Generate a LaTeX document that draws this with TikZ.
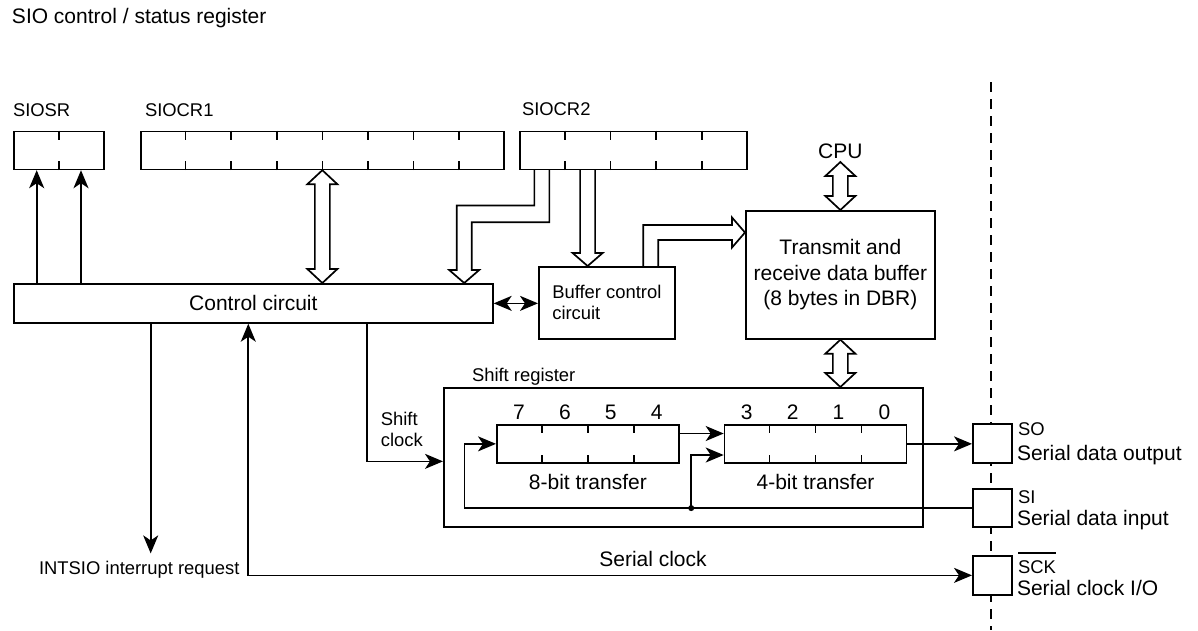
\documentclass[tikz,border=0pt]{standalone}
\usepackage{fontspec}
\setmainfont{Liberation Sans}
\usetikzlibrary{arrows.meta,calc,positioning}
\newcommand\fbig{\fontsize{21}{25.6}\selectfont}
\newcommand\fsmall{\fontsize{18.4}{21}\selectfont}
\newcommand\ovl[1]{\vbox{\hrule height 1.5pt\kern 6.5pt\hbox{#1}}}
% bit ticks on a register: node, number of cells
\newcommand\regticks[2]{\foreach \i in {1,...,#2}{\ifnum\i<#2
  \draw ($(#1.north west)!\i/#2!(#1.north east)$) -- ++(0,9)
        ($(#1.south west)!\i/#2!(#1.south east)$) -- ++(0,-9);\fi}}
% two-way hollow bus, #1 top end, #2 bottom end
\newcommand\dbus[2]{\draw[bus] (#1) -- ++(15,14) -- ++(-7.5,0) -- ($(#2)+(7.5,-14)$)
  -- ++(7.5,0) -- (#2) -- ++(-15,-14) -- ++(7.5,0) -- ($(#1)+(-7.5,14)$) -- ++(-7.5,0) -- cycle;}
\tikzset{
  reg/.style={draw,anchor=north west,inner sep=0pt},
  blk/.style={reg,font=\fbig},
  pinbox/.style={draw,fill=white,line width=2.2pt,anchor=north west,inner sep=0pt,
                 minimum width=39pt,minimum height=38.5pt},
  txt/.style={inner sep=0pt,outer sep=0pt,text height=15.1pt,text depth=0pt,font=\fbig},
  stxt/.style={txt,text height=13.2pt,font=\fsmall},
  bus/.style={line join=miter},
  pinline/.style={line width=2.4pt,dash pattern=on 10pt off 7pt}
}
\begin{document}
\begin{tikzpicture}[x=1pt,y=-1pt,line width=1.7pt,
    >={Stealth[length=18pt,width=15pt,inset=5pt]}]
  \useasboundingbox (0,0) rectangle (1198,630);
  \node[txt,anchor=base west] (title) at (12,23.3) {SIO control / status register};

  % control / status registers
  \node[reg,minimum width=90pt,minimum height=38pt] (sr) at (13,130.5) {};
  \node[reg,minimum width=363pt,minimum height=38pt] (cr1) at (140,130.5) {};
  \node[reg,minimum width=227pt,minimum height=38pt] (cr2) at (519,130.5) {};
  \regticks{sr}{2} \regticks{cr1}{8} \regticks{cr2}{5}
  \node[stxt,above right=14.5pt and 0pt of sr.north west] (srl) {SIOSR};
  \node[stxt,above right=14.5pt and 5pt of cr1.north west] (cr1l) {SIOCR1};
  \node[stxt,above right=15pt and 3pt of cr2.north west] (cr2l) {SIOCR2};

  % circuits and buffer
  \node[blk,minimum width=479pt,minimum height=39pt] (ctl) at (13,283) {Control circuit};
  \node[blk,font=\fsmall,align=left,minimum width=136pt,minimum height=72pt] (bcc) at (538,266) {Buffer control\\circuit};
  \node[blk,align=center,minimum width=189pt,minimum height=128pt] (dbr) at (745,210) {Transmit and\\receive data buffer\\(8 bytes in DBR)};
  \node[txt,above=52pt of dbr] (cpu) {CPU};

  % shift register
  \node[reg,minimum width=479pt,minimum height=139pt] (shr) at (443,387) {};
  \node[stxt,above right=5.5pt and 29pt of shr.north west] (shrl) {Shift register};
  \node[reg,minimum width=182pt,minimum height=38pt] (r8) at (496,424) {};
  \node[reg,minimum width=182pt,minimum height=38pt,right=44pt of r8] (r4) {};
  \regticks{r8}{4} \regticks{r4}{4}
  \foreach \b [count=\k, evaluate=\k as \f using (\k-0.5)/4] in {7,6,5,4}
    \node[txt] (b\b) at ($(r8.north west)!\f!(r8.north east)+(0,-12.5)$) {\b};
  \foreach \b [count=\k, evaluate=\k as \f using (\k-0.5)/4] in {3,2,1,0}
    \node[txt] (b\b) at ($(r4.north west)!\f!(r4.north east)+(0,-12.5)$) {\b};
  \node[txt,below=10.5pt of r8] (r8l) {8-bit transfer};
  \node[txt,below=10.5pt of r4] (r4l) {4-bit transfer};

  % pins
  \draw[pinline] (991,82) -- (991,630);
  \node[pinbox,minimum height=39pt] (so) at (972,423) {};
  \node[pinbox,minimum height=38pt] (si) at (972,488) {};
  \node[pinbox] (sck) at (972,555) {};
  \node[stxt,anchor=west] (sol) at (1018,429) {SO};
  \node[txt,anchor=west] (sod) at (1017,453) {Serial data output};
  \node[stxt,anchor=west] (sil) at (1018,496.7) {SI};
  \node[txt,anchor=west] (sid) at (1017,518) {Serial data input};
  \node[stxt,anchor=west] (sckl) at (1018,566.7) {\ovl{SCK}};
  \node[txt,anchor=west] (sckd) at (1017,588.3) {Serial clock I/O};

  \node[txt] (sckt) at (653,559.3) {Serial clock};
  \node[stxt,anchor=west] (intl) at (39,568) {INTSIO interrupt request};
  \node[font=\fsmall,align=left,inner sep=0pt,anchor=base west] (shcl) at (380,446.6) {Shift\\clock};

  % signal lines
  \coordinate (srA) at ([xshift=23.7pt]sr.south west);
  \coordinate (srB) at ([xshift=68pt]sr.south west);
  \draw[->] (srA |- ctl.north) -- (srA);
  \draw[->] (srB |- ctl.north) -- (srB);
  \draw[<->] (ctl.east) -- (ctl.east -| bcc.west);
  \coordinate (intA) at ([xshift=137.7pt]ctl.south west);
  \draw[->,shorten >=8pt] (intA) -- (intA |- intl.north);
  \coordinate (sckA) at ([xshift=235.3pt]ctl.south west);
  \draw[<->] (sckA) |- (sck.west);
  \coordinate (shA) at ([xshift=353.7pt]ctl.south west);
  \draw[->] (shA) |- ([yshift=-4pt]shr.west);
  \coordinate (q1) at ([yshift=-9.5pt]r8.north east);
  \draw[->] (q1) -- (q1 -| r4.west);
  \draw[->] (r4.east) -- (r4.east -| so.west);
  \draw[->] (si.west) -| ([xshift=-31.5pt]r8.west) -- (r8.west);
  \coordinate (jx) at ([xshift=11.5pt]r8.east);
  \coordinate (q2) at ([yshift=8.7pt]r4.south west);
  \fill (jx |- si.west) circle (3pt);
  \draw[->] (jx |- si.west) |- (q2);

  % hollow buses
  \dbus{cr1.south}{cr1.south |- ctl.north}
  \dbus{[yshift=-4pt]cpu.south}{dbr.north}
  \dbus{dbr.south}{dbr.south |- shr.north}
  \coordinate (c2a) at ($(cr2.south west)!.1!(cr2.south east)$);
  \coordinate (c2b) at ($(cr2.south west)!.3!(cr2.south east)$);
  \coordinate (ctlB) at ([xshift=-29.5pt]ctl.north east);
  \draw[bus] ($(c2a)+(-7.5,0)$) |- ($(ctlB)+(-7.5,-77.5)$) -- ($(ctlB)+(-7.5,-13)$) -- ++(-7.5,0)
    -- (ctlB) -- ++(15,-13) -- ++(-7.5,0) |- ($(c2a)+(7.5,52)$) -- ($(c2a)+(7.5,0)$);
  \draw[bus] ($(c2b)+(-7.5,0)$) -- ($(c2b |- bcc.north)+(-7.5,-13)$) -- ++(-7.5,0)
    -- (c2b |- bcc.north) -- ++(15,-13) -- ++(-7.5,0) -- ($(c2b)+(7.5,0)$);
  \coordinate (bcA) at ([xshift=-25pt]bcc.north east);
  \coordinate (dbA) at ([yshift=-22.5pt]dbr.north west);
  \draw[bus] ($(bcA)+(-7.5,0)$) |- ($(dbA)+(-13,-7.5)$) -- ++(0,-7.5) -- (dbA)
    -- ++(-13,15) -- ++(0,-7.5) -| ($(bcA)+(7.5,0)$);
\end{tikzpicture}
\end{document}
